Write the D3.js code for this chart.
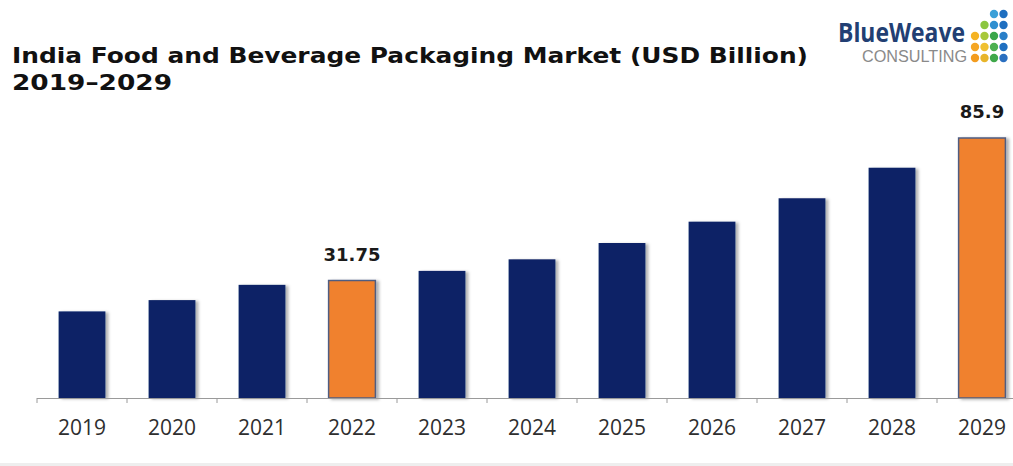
<!DOCTYPE html>
<html>
<head>
<meta charset="utf-8">
<script src="https://cdn.jsdelivr.net/npm/d3@7"></script>
<style>
  html, body { margin: 0; padding: 0; background: #fff; }
  svg { display: block; }
</style>
</head>
<body>
<svg id="chart" width="1013" height="466"></svg>
<script>
// ---- data ----
const years = ["2019","2020","2021","2022","2023","2024","2025","2026","2027","2028","2029"];
const values = [20.0, 24.3, 30.1, 31.75, 35.4, 39.8, 46.0, 54.1, 63.0, 74.6, 85.9];
const highlighted = ["2022","2029"];
const labelled = { "2022": "31.75", "2029": "85.9" };
const titleLines = ["India Food and Beverage Packaging Market (USD Billion)", "2019\u20132029"];

// ---- layout ----
const W = 1013, H = 466;
const baseY = 398;
const svg = d3.select("#chart");

svg.append("rect").attr("x",0).attr("y",0).attr("width",W).attr("height",H).attr("fill","#fff");
svg.append("rect").attr("x",0).attr("y",463).attr("width",W).attr("height",3).attr("fill","#eeeeee");

const defs = svg.append("defs");
const f = defs.append("filter").attr("id","shadow").attr("x","-20%").attr("y","-20%").attr("width","150%").attr("height","150%");
f.append("feDropShadow").attr("dx",3).attr("dy",1).attr("stdDeviation",1.6).attr("flood-color","#000").attr("flood-opacity",0.3);

const x = d3.scaleBand().domain(years).range([37, 37 + 90 * years.length]).paddingInner(0.48).paddingOuter(0.24);
const y = d3.scaleLinear().domain([-12.9, 85.9]).range([baseY, 138]);

// bars
svg.append("g").selectAll("rect").data(years).join("rect")
  .attr("x", d => x(d))
  .attr("y", (d,i) => y(values[i]))
  .attr("width", x.bandwidth())
  .attr("height", (d,i) => baseY - y(values[i]))
  .attr("fill", d => highlighted.includes(d) ? "#f0812e" : "#0b2266")
  .attr("stroke", d => highlighted.includes(d) ? "#4f5d82" : "none")
  .attr("stroke-width", 1.5)
  .attr("filter", "url(#shadow)");

// axis
const axisG = svg.append("g");
axisG.append("line").attr("x1",37).attr("x2",W).attr("y1",baseY+0.5).attr("y2",baseY+0.5)
  .attr("stroke","#9a9a9a").attr("stroke-width",1);
axisG.selectAll("line.tick").data(d3.range(years.length + 1)).join("line")
  .attr("class","tick")
  .attr("x1", i => 37 + i * x.step()).attr("x2", i => 37 + i * x.step())
  .attr("y1", baseY).attr("y2", baseY + 5)
  .attr("stroke","#9a9a9a");

const xAxis = d3.axisBottom(x).tickSize(0).tickPadding(0);
const ax = svg.append("g").attr("transform", `translate(0,${baseY})`).call(xAxis);
ax.select(".domain").remove();
ax.selectAll("text")
  .attr("y", 37).attr("dy", 0)
  .attr("font-family", "'Open Sans', sans-serif")
  .attr("font-size", 21)
  .attr("fill", "#2e2e2e");

// value labels
svg.append("g").selectAll("text").data(years.filter(d => labelled[d])).join("text")
  .attr("x", d => x(d) + x.bandwidth() / 2)
  .attr("y", d => y(values[years.indexOf(d)]) - 20)
  .attr("text-anchor", "middle")
  .attr("font-family", "'DejaVu Sans', sans-serif")
  .attr("font-weight", "bold")
  .attr("font-size", 18)
  .attr("fill", "#1a1a1a")
  .text(d => labelled[d]);

// title
const t = svg.append("text")
  .attr("font-family", "'DejaVu Sans', Verdana, sans-serif")
  .attr("font-weight", "bold")
  .attr("font-size", 22)
  .attr("fill", "#111");
t.append("tspan").attr("x", 12).attr("y", 63).attr("textLength", 796).attr("lengthAdjust","spacingAndGlyphs").text(titleLines[0]);
t.append("tspan").attr("x", 12).attr("y", 90).attr("textLength", 160).attr("lengthAdjust","spacingAndGlyphs").text(titleLines[1]);

// logo
const logo = svg.append("g");
logo.append("text").attr("x", 838).attr("y", 42)
  .attr("font-family", "'Open Sans', sans-serif").attr("font-weight","bold").attr("font-size", 27)
  .attr("textLength", 127).attr("lengthAdjust","spacingAndGlyphs")
  .attr("fill", "#223f73").text("BlueWeave");
logo.append("text").attr("x", 862).attr("y", 62)
  .attr("font-family", "'Liberation Sans Narrow', 'Liberation Sans', sans-serif").attr("font-size", 16)
  .attr("textLength", 105).attr("lengthAdjust","spacingAndGlyphs")
  .attr("fill", "#8a8a8a").text("CONSULTING");
const dotColors = [
  [null, null, "#3aa0d8", "#1f6fc0"],
  [null, "#8cc63f", "#2e8fd0", "#1f6fc0"],
  ["#f5b323", "#a8c83a", "#3aa64a", "#2a7fc8"],
  ["#f5a623", "#f0c030", "#4cb050", "#1f6fc0"],
  ["#f39c1e", "#e8b52a", "#3fa84a", "#2a6fc0"]
];
dotColors.forEach((row, r) => row.forEach((c, cI) => {
  if (!c) return;
  logo.append("circle").attr("cx", 975 + cI * 9.5).attr("cy", 14 + r * 11).attr("r", 4.2).attr("fill", c);
}));
</script>
</body>
</html>
